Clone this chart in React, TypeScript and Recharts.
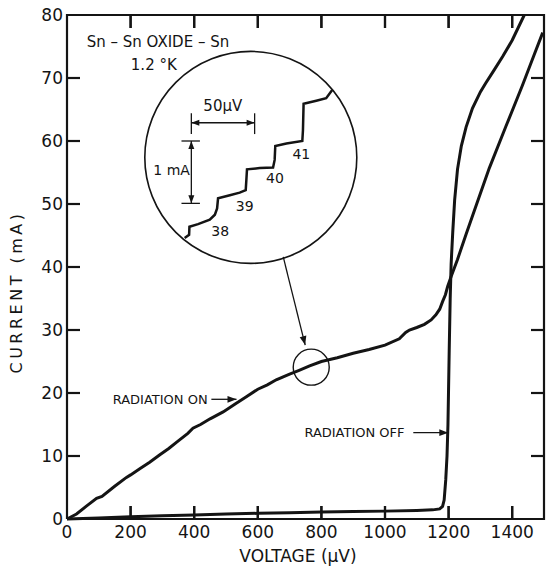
import React from 'react';
import { LineChart, Line, XAxis, YAxis, ReferenceDot, ReferenceLine } from 'recharts';

// ---- axes ----
const xTicks = [0, 200, 400, 600, 800, 1000, 1200, 1400];
const xTickMarks = [200, 400, 600, 800, 1000, 1200, 1400];
const yTicks = [0, 10, 20, 30, 40, 50, 60, 70, 80];
const yTickMarks = [10, 20, 30, 40, 50, 60, 70];
const X_MAX = 1500;
const Y_MAX = 80;

// ---- RADIATION ON curve (voltage µV, current mA) ----
const onV = [0, 30, 60, 93, 110, 150, 187, 200, 230, 260, 292, 320, 350, 380, 396, 420, 450, 491, 530, 564, 600, 630, 658, 700, 730, 763, 800, 850, 900, 950, 1000, 1045, 1065, 1077, 1100, 1124, 1145, 1160, 1172, 1181, 1190, 1197, 1208, 1228, 1255, 1280, 1328, 1380, 1432, 1470, 1496];
const onI = [0, 0.8, 2.0, 3.3, 3.6, 5.2, 6.6, 7.0, 8.0, 9.0, 10.2, 11.2, 12.4, 13.6, 14.4, 15.0, 15.9, 17.0, 18.3, 19.4, 20.6, 21.3, 22.1, 23.0, 23.6, 24.3, 25.0, 25.6, 26.3, 26.9, 27.6, 28.6, 29.6, 30.0, 30.4, 30.9, 31.6, 32.4, 33.3, 34.5, 35.6, 36.9, 38.5, 41.2, 45.2, 48.8, 55.7, 62.3, 68.8, 73.8, 77.2];

// ---- RADIATION OFF curve ----
const offV = [0, 100, 200, 300, 400, 500, 600, 700, 800, 900, 1000, 1100, 1150, 1172, 1181, 1186, 1191, 1195, 1198, 1202, 1205, 1208, 1213, 1219, 1228, 1240, 1255, 1275, 1300, 1317, 1345, 1370, 1400, 1438];
const offI = [0, 0.15, 0.35, 0.5, 0.65, 0.8, 0.9, 1.0, 1.1, 1.2, 1.25, 1.35, 1.45, 1.6, 2.0, 3.0, 6.2, 10, 15, 27, 35, 40.5, 45.5, 50.6, 55.5, 59.2, 62.2, 65.2, 67.8, 69.2, 71.4, 73.4, 76.0, 80];

// ---- magnified inset staircase (placed in the main axes' coordinates) ----
const stairV = [370, 384, 385, 412, 449, 465, 472, 475, 512, 543, 562, 564, 566, 606, 648, 653, 655, 690, 740, 742, 744, 784, 815, 834];
const stairI = [44.6, 45.1, 46.4, 46.8, 47.5, 48.3, 49.3, 50.9, 51.4, 51.8, 52.2, 53.8, 55.5, 55.7, 55.8, 57.0, 59.2, 59.6, 60.0, 61.7, 65.9, 66.4, 66.8, 68.1];
const stepLabels = ['38', '39', '40', '41'];
const stepLabelV = [482, 559, 654, 737];
const stepLabelI = [45.8, 49.7, 54.1, 57.9];

// inset circle and the small circle on the curve (centre V, I)
const circleV = [578, 768];
const circleI = [57.4, 24.1];

// scale bars of the inset
const barLabels = ['50µV', '1 mA'];
const barLabelV = [490, 329];
const barLabelI = [65.6, 55.4];
const hBarV = [391, 590];
const hBarI = 62.9;
const hBarTickI = [61.1, 64.4];
const vBarV = 391;
const vBarI = [50.1, 60.0];
const vBarCapV = [360, 418];

// text notes
const noteText = ['Sn – Sn OXIDE – Sn', '1.2 °K', 'RADIATION ON', 'RADIATION OFF'];
const noteV = [286, 273, 293, 904];
const noteI = [75.7, 72.1, 19.0, 13.8];

// arrows [v1, i1, v2, i2]
const onArrow = [454, 19.0, 533, 19.0];
const offArrow = [1089, 13.7, 1199, 13.7];
const pointerArrow = [680, 41.6, 749, 27.6];

const onData = onV.map((v, k) => ({ v, i: onI[k] }));
const offData = offV.map((v, k) => ({ v, i: offI[k] }));
const stairData = stairV.map((v, k) => ({ v, i: stairI[k] }));

const INK = '#141414';
const FONT = '"DejaVu Sans", Verdana, sans-serif';

// layout: plot box is 477 x 504 px; inward tick marks are 13 px long
const PLOT_W = 477;
const PLOT_H = 504;
const TICK_PX = 13;
const TICK_V = (TICK_PX * X_MAX) / PLOT_W;
const TICK_I = (TICK_PX * Y_MAX) / PLOT_H;

// one continuous polyline around the frame with an inward excursion at each tick
type Pt = { v: number; i: number };
const framePath: Pt[] = [
  { v: 0, i: 0 },
  ...xTickMarks.flatMap((v) => [{ v, i: 0 }, { v, i: TICK_I }, { v, i: 0 }]),
  { v: X_MAX, i: 0 },
  ...yTickMarks.flatMap((i) => [{ v: X_MAX, i }, { v: X_MAX - TICK_V, i }, { v: X_MAX, i }]),
  { v: X_MAX, i: Y_MAX },
  ...[...xTickMarks].reverse().flatMap((v) => [{ v, i: Y_MAX }, { v, i: Y_MAX - TICK_I }, { v, i: Y_MAX }]),
  { v: 0, i: Y_MAX },
  ...[...yTickMarks].reverse().flatMap((i) => [{ v: 0, i }, { v: TICK_V, i }, { v: 0, i }]),
  { v: 0, i: 0 },
];

// the same marks as anchored points (direction the mark points into the plot)
const markAnchors = [
  ...xTickMarks.map((v) => ({ v, i: 0, dx: 0, dy: -1 })),
  ...xTickMarks.map((v) => ({ v, i: Y_MAX, dx: 0, dy: 1 })),
  ...yTickMarks.map((i) => ({ v: 0, i, dx: 1, dy: 0 })),
  ...yTickMarks.map((i) => ({ v: X_MAX, i, dx: -1, dy: 0 })),
];

const markShape = (dx: number, dy: number) => (p: any) => (
  <path d={`M${p.cx},${p.cy}L${p.cx + dx * TICK_PX},${p.cy + dy * TICK_PX}`} stroke={INK} strokeWidth={2.2} fill="none" />
);

const makeArrow = (startHead: boolean, endHead: boolean, width: number, L = 9, W = 3.4) => (p: any) => {
  const { x1, y1, x2, y2 } = p;
  const dx = x2 - x1;
  const dy = y2 - y1;
  const len = Math.hypot(dx, dy) || 1;
  const ux = dx / len;
  const uy = dy / len;
  const head = (x: number, y: number, sx: number, sy: number) => {
    const bx = x - sx * L;
    const by = y - sy * L;
    return `${x},${y} ${bx - sy * W},${by + sx * W} ${bx + sy * W},${by - sx * W}`;
  };
  return (
    <g>
      <line x1={x1} y1={y1} x2={x2} y2={y2} stroke={INK} strokeWidth={width} />
      {endHead && <polygon points={head(x2, y2, ux, uy)} fill={INK} />}
      {startHead && <polygon points={head(x1, y1, -ux, -uy)} fill={INK} />}
    </g>
  );
};

const textLabel = (value: string, size: number) => (p: any) => {
  const vb = p.viewBox || {};
  const cx = (vb.x || 0) + (vb.width || 0) / 2;
  const cy = (vb.y || 0) + (vb.height || 0) / 2;
  return (
    <text x={cx} y={cy} dy="0.36em" textAnchor="middle" fontSize={size} fontFamily={FONT} fill={INK}>
      {value}
    </text>
  );
};

const noteSizes = [15, 15, 13, 13];

export default function App() {
  const axisLine = { stroke: INK, strokeWidth: 2 };
  const tickFont = { fontFamily: FONT, fontSize: 17, fill: INK };
  return (
    <div style={{ position: 'absolute', left: 0, top: 0, background: '#fff' }}>
      <LineChart width={547} height={567} margin={{ top: 15, right: 3, bottom: 0, left: 0 }}>
        <XAxis
          xAxisId="b"
          type="number"
          dataKey="v"
          domain={[0, X_MAX]}
          ticks={xTicks}
          orientation="bottom"
          height={48}
          tickSize={0}
          tickMargin={7}
          axisLine={axisLine}
          tickLine={false}
          tick={tickFont}
          interval={0}
          label={() => (
            <text x={298} y={562} textAnchor="middle" fontSize={17} fontFamily={FONT} fill={INK}>
              VOLTAGE (µV)
            </text>
          )}
        />
        <XAxis xAxisId="t" type="number" domain={[0, X_MAX]} orientation="top" height={0} axisLine={axisLine} tickLine={false} tick={false} />
        <YAxis
          yAxisId="l"
          type="number"
          domain={[0, Y_MAX]}
          ticks={yTicks}
          orientation="left"
          width={67}
          tickSize={0}
          tickMargin={4}
          axisLine={axisLine}
          tickLine={false}
          tick={tickFont}
          interval={0}
          label={() => (
            <text
              x={22}
              y={292}
              transform="rotate(-90 22 292)"
              textAnchor="middle"
              fontSize={16}
              letterSpacing={3.5}
              fontFamily={FONT}
              fill={INK}
            >
              CURRENT (mA)
            </text>
          )}
        />
        <YAxis yAxisId="r" type="number" domain={[0, Y_MAX]} orientation="right" width={0} axisLine={axisLine} tickLine={false} tick={false} />

        {/* frame with inward tick marks, drawn as one polyline */}
        <Line
          xAxisId="b"
          yAxisId="l"
          data={framePath}
          dataKey="i"
          type="linear"
          stroke={INK}
          strokeWidth={2.2}
          strokeLinejoin="miter"
          dot={false}
          isAnimationActive={false}
        />
        {markAnchors.map((m) => (
          <ReferenceDot
            key={`m${m.v}-${m.i}`}
            xAxisId="b"
            yAxisId="l"
            x={m.v}
            y={m.i}
            r={1}
            ifOverflow="visible"
            shape={markShape(m.dx, m.dy)}
          />
        ))}

        <Line xAxisId="b" yAxisId="l" data={onData} dataKey="i" type="linear" stroke={INK} strokeWidth={3} dot={false} isAnimationActive={false} />
        <Line xAxisId="b" yAxisId="l" data={offData} dataKey="i" type="linear" stroke={INK} strokeWidth={3} dot={false} isAnimationActive={false} />
        <Line xAxisId="b" yAxisId="l" data={stairData} dataKey="i" type="linear" stroke={INK} strokeWidth={2.5} dot={false} isAnimationActive={false} />

        {/* inset circle and small circle */}
        <ReferenceDot xAxisId="b" yAxisId="l" x={circleV[0]} y={circleI[0]} r={106} fill="none" stroke={INK} strokeWidth={1.6} ifOverflow="visible" />
        <ReferenceDot xAxisId="b" yAxisId="l" x={circleV[1]} y={circleI[1]} r={18} fill="none" stroke={INK} strokeWidth={1.4} ifOverflow="visible" />

        {/* pointer arrow from inset to small circle */}
        <ReferenceLine
          xAxisId="b"
          yAxisId="l"
          segment={[{ x: pointerArrow[0], y: pointerArrow[1] }, { x: pointerArrow[2], y: pointerArrow[3] }]}
          shape={makeArrow(false, true, 1.3)}
          ifOverflow="visible"
        />
        {/* radiation arrows */}
        <ReferenceLine
          xAxisId="b"
          yAxisId="l"
          segment={[{ x: onArrow[0], y: onArrow[1] }, { x: onArrow[2], y: onArrow[3] }]}
          shape={makeArrow(false, true, 1.3)}
          ifOverflow="visible"
        />
        <ReferenceLine
          xAxisId="b"
          yAxisId="l"
          segment={[{ x: offArrow[0], y: offArrow[1] }, { x: offArrow[2], y: offArrow[3] }]}
          shape={makeArrow(false, true, 1.3)}
          ifOverflow="visible"
        />

        {/* 50 µV bar */}
        <ReferenceLine
          xAxisId="b"
          yAxisId="l"
          segment={[{ x: hBarV[0], y: hBarI }, { x: hBarV[1], y: hBarI }]}
          shape={makeArrow(true, true, 1.3, 8, 3)}
          ifOverflow="visible"
        />
        {hBarV.map((v) => (
          <ReferenceLine
            key={`ht${v}`}
            xAxisId="b"
            yAxisId="l"
            segment={[{ x: v, y: hBarTickI[0] }, { x: v, y: hBarTickI[1] }]}
            stroke={INK}
            strokeWidth={1.3}
            ifOverflow="visible"
          />
        ))}
        {/* 1 mA bar */}
        <ReferenceLine
          xAxisId="b"
          yAxisId="l"
          segment={[{ x: vBarV, y: vBarI[0] }, { x: vBarV, y: vBarI[1] }]}
          shape={makeArrow(true, true, 1.3, 8, 3)}
          ifOverflow="visible"
        />
        {vBarI.map((i) => (
          <ReferenceLine
            key={`vc${i}`}
            xAxisId="b"
            yAxisId="l"
            segment={[{ x: vBarCapV[0], y: i }, { x: vBarCapV[1], y: i }]}
            stroke={INK}
            strokeWidth={1.3}
            ifOverflow="visible"
          />
        ))}

        {barLabels.map((t, k) => (
          <ReferenceDot key={t} xAxisId="b" yAxisId="l" x={barLabelV[k]} y={barLabelI[k]} r={0} fill="none" stroke="none" ifOverflow="visible" label={textLabel(t, k === 0 ? 15 : 14)} />
        ))}
        {stepLabels.map((t, k) => (
          <ReferenceDot key={t} xAxisId="b" yAxisId="l" x={stepLabelV[k]} y={stepLabelI[k]} r={0} fill="none" stroke="none" ifOverflow="visible" label={textLabel(t, 14)} />
        ))}
        {noteText.map((t, k) => (
          <ReferenceDot key={t} xAxisId="b" yAxisId="l" x={noteV[k]} y={noteI[k]} r={0} fill="none" stroke="none" ifOverflow="visible" label={textLabel(t, noteSizes[k])} />
        ))}
      </LineChart>
    </div>
  );
}
